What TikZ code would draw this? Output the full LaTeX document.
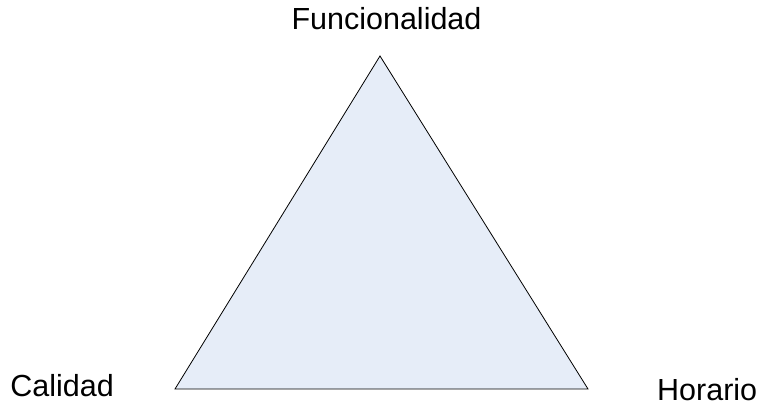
\documentclass[tikz,border=0pt]{standalone}
\usepackage{fontspec}
\setmainfont{Liberation Sans}
\begin{document}
\begin{tikzpicture}[x=1pt,y=-1pt,
  lbl/.style={inner sep=0pt,font=\fontsize{30.5}{36}\selectfont}]
\useasboundingbox (0,0) rectangle (764,406);
\coordinate (top) at (380,56);
\coordinate (bl) at (175,389);
\coordinate (br) at (588,389);
\filldraw[fill={rgb,255:red,230;green,237;blue,248},draw=black,line width=0.8pt,line join=miter] (top) -- (bl) -- (br) -- cycle;
\node[lbl,anchor=base] (f) at (386.5,30) {Funcionalidad};
\node[lbl,anchor=base west] (c) at (10.2,397) {Calidad};
\node[lbl,anchor=base west] (h) at (657,400.5) {Horario};
\end{tikzpicture}
\end{document}
